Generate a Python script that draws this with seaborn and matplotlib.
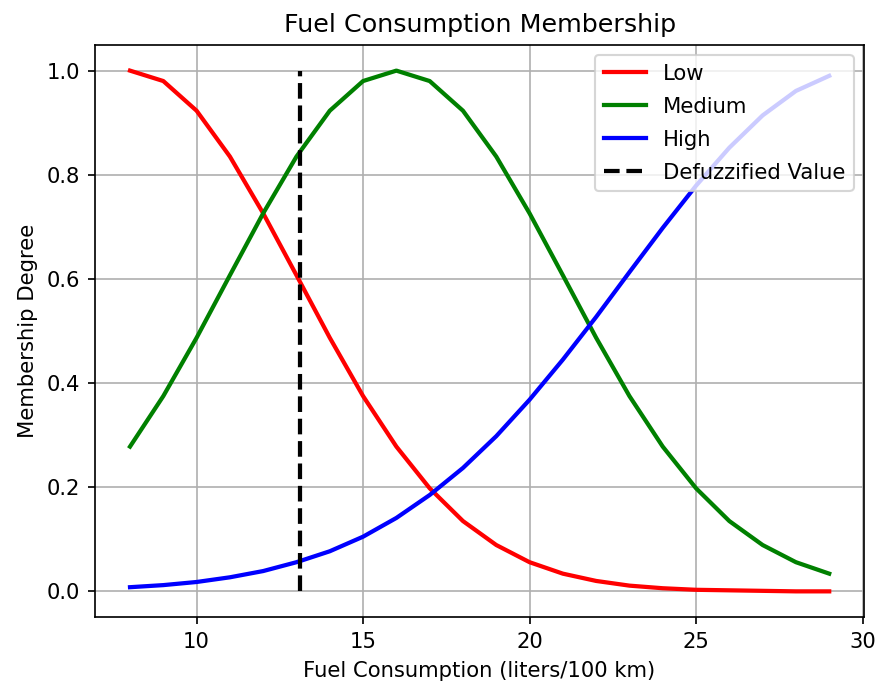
import matplotlib
matplotlib.use("Agg")
import matplotlib.pyplot as plt
import seaborn as sns
import pandas as pd

x_values = list(range(8, 30))
low = [1.000, 0.980, 0.923, 0.835, 0.726, 0.607, 0.487, 0.375, 0.278, 0.198, 0.135,
       0.089, 0.056, 0.034, 0.020, 0.011, 0.006, 0.003, 0.002, 0.001, 0.000, 0.000]
medium = [0.278, 0.375, 0.487, 0.607, 0.726, 0.835, 0.923, 0.980, 1.000, 0.980, 0.923,
          0.835, 0.726, 0.607, 0.487, 0.375, 0.278, 0.198, 0.135, 0.089, 0.056, 0.034]
high = [0.008, 0.012, 0.018, 0.027, 0.039, 0.056, 0.077, 0.105, 0.141, 0.185, 0.237,
        0.298, 0.368, 0.445, 0.527, 0.613, 0.698, 0.779, 0.852, 0.914, 0.961, 0.990]
defuzzified = 13.1

DPI = 152
plt.rcParams["font.size"] = 10
fig = plt.figure(figsize=(876 / DPI, 686 / DPI), dpi=DPI)
ax = fig.add_axes([0.1085, 0.100, 0.878, 0.835])

df = pd.DataFrame({"x": x_values, "Low": low, "Medium": medium, "High": high})
LW = 2
sns.lineplot(data=df, x="x", y="Low", color="red", lw=LW, label="Low", ax=ax)
sns.lineplot(data=df, x="x", y="Medium", color="green", lw=LW, label="Medium", ax=ax)
sns.lineplot(data=df, x="x", y="High", color="blue", lw=LW, label="High", ax=ax)
ax.plot([defuzzified, defuzzified], [0, 1], "k--", lw=LW, label="Defuzzified Value")

ax.set_title("Fuel Consumption Membership")
ax.set_xlabel("Fuel Consumption (liters/100 km)")
ax.set_ylabel("Membership Degree")
ax.grid(True)
ax.legend(loc="upper right", labelspacing=0.62)
fig.savefig("out.png", dpi=DPI)
